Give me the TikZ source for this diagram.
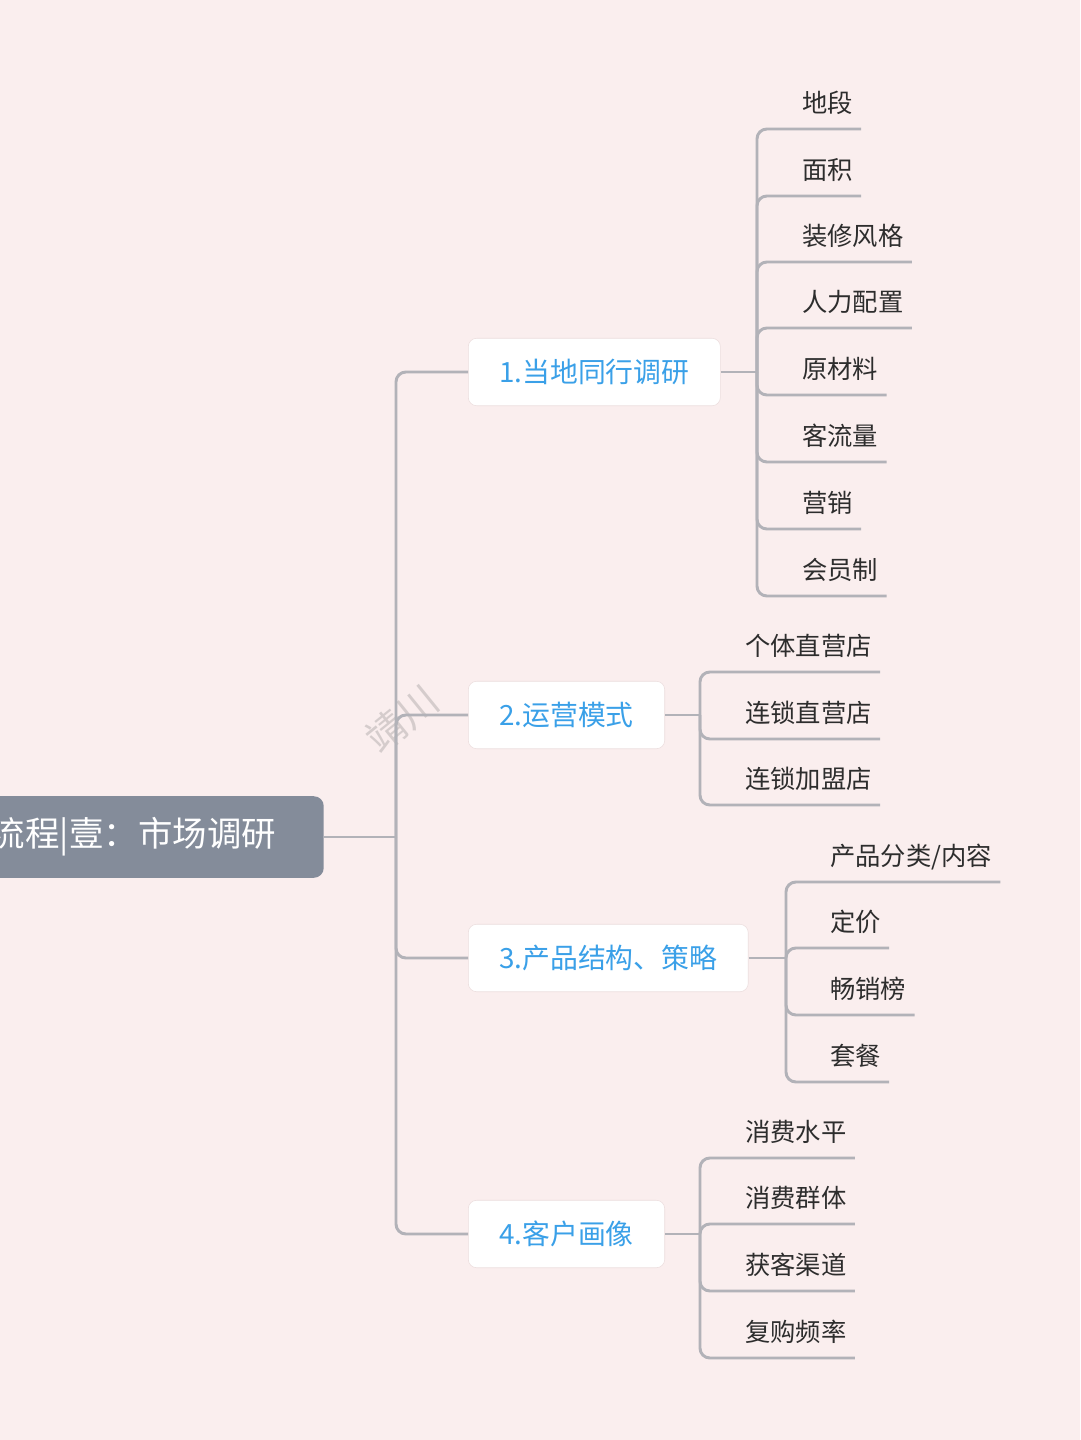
\documentclass[tikz,border=0pt]{standalone}
\usepackage{fontspec}
\setmainfont{Noto Sans CJK SC}
\definecolor{mapbg}{RGB}{250, 238, 238}
\definecolor{mapslate}{RGB}{132, 140, 154}
\definecolor{mapblue}{RGB}{58, 160, 232}
\definecolor{mapline}{RGB}{178, 178, 184}
\definecolor{mapink}{RGB}{45, 45, 45}
\definecolor{mapedge}{RGB}{236, 222, 222}
\tikzset{
  root/.style={
    fill=mapslate,
    rounded corners=7pt,
    anchor=east,
    minimum height=58pt,
    inner xsep=34pt,
    text=white,
    font=\fontsize{24.5pt}{28pt}\selectfont
  },
  topic/.style={
    draw=mapedge,
    fill=white,
    rounded corners=6pt,
    anchor=west,
    minimum height=48pt,
    inner xsep=22pt,
    text=mapblue,
    font=\fontsize{19.8pt}{24pt}\selectfont
  },
  leaf/.style={
    anchor=south west,
    inner xsep=5.7pt,
    inner ysep=9.5pt,
    text height=16pt,
    text depth=2.2pt,
    text=mapink,
    font=\fontsize{18pt}{22pt}\selectfont
  },
  link/.style={
    draw=mapline,
    line width=2.1pt,
    rounded corners=7pt
  }
}
\begin{document}
\begin{tikzpicture}[x=0.025cm, y=-0.025cm]
  \clip (0,0) rectangle (1080,1440);
  \fill[mapbg] (0,0) rectangle (1080,1440);

  % watermark
  \node[rotate=39, text=gray, opacity=0.3, font=\fontsize{28pt}{32pt}\selectfont] (mark) at (402,719) {靖川};

  % centre and main topics
  \node[root] (market) at (324,837) {流程|壹：市场调研};
  \node[topic] (peer) at (468,372) {1.当地同行调研};
  \node[topic] (mode) at (468,715) {2.运营模式};
  \node[topic] (product) at (468,958) {3.产品结构、策略};
  \node[topic] (client) at (468,1234) {4.客户画像};

  \coordinate (trunk) at (396,837);
  \draw[link] (market.east) -- (trunk);
  \draw[link] (trunk) |- (peer.west);
  \draw[link] (trunk) |- (mode.west);
  \draw[link] (trunk) |- (product.west);
  \draw[link] (trunk) |- (client.west);

  % 1. peers
  \node[leaf] (site) at (794,129) {地段};
  \node[leaf] (area) at (794,196) {面积};
  \node[leaf] (decor) at (794,262) {装修风格};
  \node[leaf] (staff) at (794,328) {人力配置};
  \node[leaf] (stock) at (794,395) {原材料};
  \node[leaf] (traffic) at (794,462) {客流量};
  \node[leaf] (promo) at (794,529) {营销};
  \node[leaf] (member) at (794,596) {会员制};
  \coordinate (peerj) at (757,372);
  \draw[link] (peer.east) -- (peerj);
  \foreach \n in {site, area, decor, staff, stock, traffic, promo, member}
    \draw[link] (peerj) |- (\n.south east);

  % 2. modes
  \node[leaf] (single) at (737,672) {个体直营店};
  \node[leaf] (chain) at (737,739) {连锁直营店};
  \node[leaf] (franchise) at (737,805) {连锁加盟店};
  \coordinate (modej) at (700,715);
  \draw[link] (mode.east) -- (modej);
  \foreach \n in {single, chain, franchise}
    \draw[link] (modej) |- (\n.south east);

  % 3. products
  \node[leaf] (range) at (822,882) {产品分类/内容};
  \node[leaf] (price) at (822,948) {定价};
  \node[leaf] (best) at (822,1015) {畅销榜};
  \node[leaf] (combo) at (822,1082) {套餐};
  \coordinate (productj) at (786,958);
  \draw[link] (product.east) -- (productj);
  \foreach \n in {range, price, best, combo}
    \draw[link] (productj) |- (\n.south east);

  % 4. clients
  \node[leaf] (spend) at (737,1158) {消费水平};
  \node[leaf] (group) at (737,1224) {消费群体};
  \node[leaf] (channel) at (737,1291) {获客渠道};
  \node[leaf] (repeat) at (737,1358) {复购频率};
  \coordinate (clientj) at (700,1234);
  \draw[link] (client.east) -- (clientj);
  \foreach \n in {spend, group, channel, repeat}
    \draw[link] (clientj) |- (\n.south east);
\end{tikzpicture}
\end{document}
